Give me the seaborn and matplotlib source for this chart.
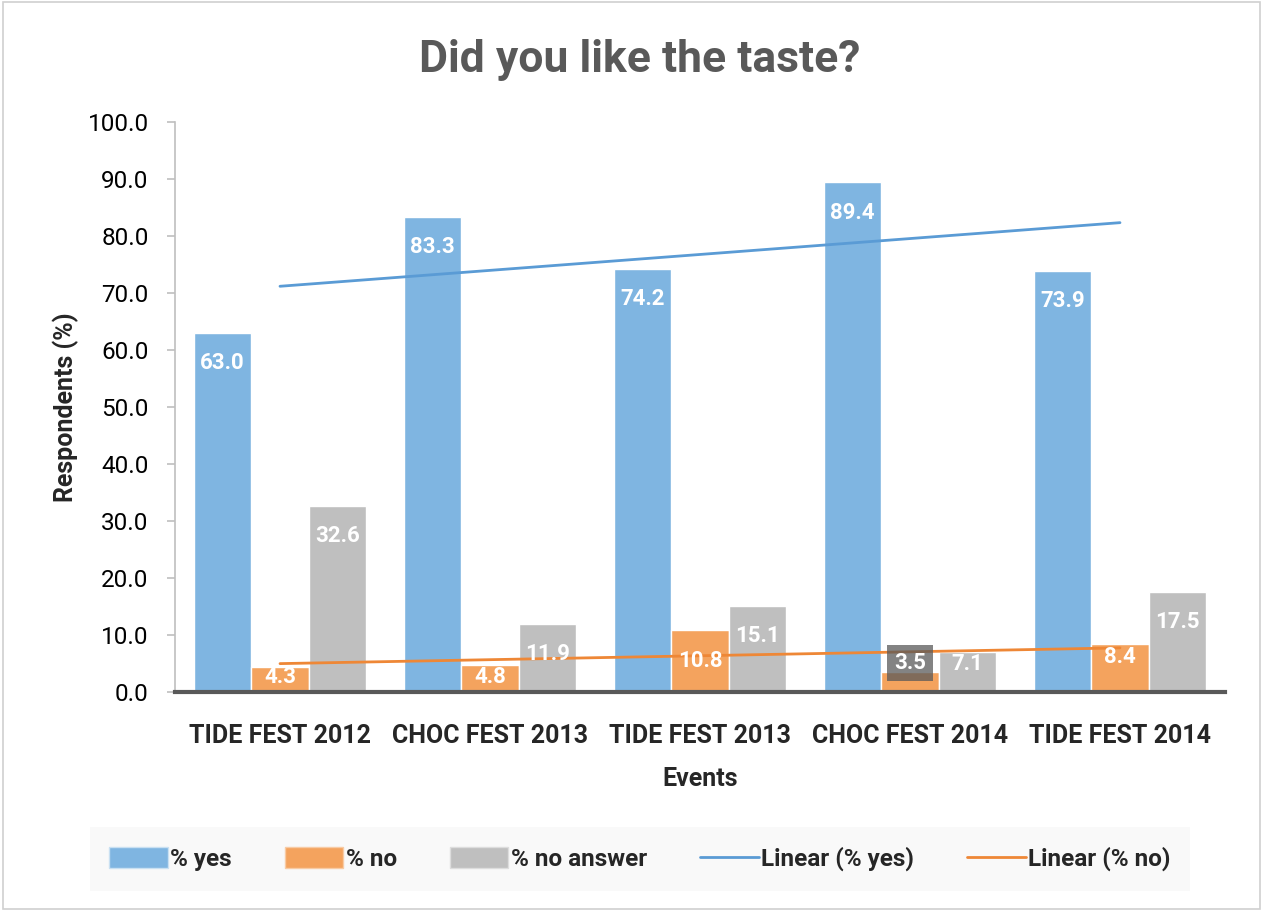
import numpy as np
import pandas as pd
import matplotlib
matplotlib.use("Agg")
import matplotlib.pyplot as plt
from matplotlib.patches import Patch, Rectangle
from matplotlib.lines import Line2D
import seaborn as sns

# data
events = ["TIDE FEST 2012", "CHOC FEST 2013", "TIDE FEST 2013", "CHOC FEST 2014", "TIDE FEST 2014"]
pct_yes = [63.0, 83.3, 74.2, 89.4, 73.9]
pct_no = [4.3, 4.8, 10.8, 3.5, 8.4]
pct_no_answer = [32.6, 11.9, 15.1, 7.1, 17.5]
series_names = ["% yes", "% no", "% no answer"]

colors = ["#7FB5E1", "#F4A35E", "#BFBFBF"]
trend_colors = ["#5A9BD5", "#EE8736"]

sns.set_theme(style="white")
plt.rcParams["font.family"] = ["Roboto", "DejaVu Sans"]

df = pd.DataFrame({
    "event": events * 3,
    "series": [s for s in series_names for _ in events],
    "value": pct_yes + pct_no + pct_no_answer,
})

fig = plt.figure(figsize=(12.63, 9.11), dpi=100)
ax = fig.add_axes([175 / 1263, 1 - 692 / 911, 1050 / 1263, 570 / 911])

sns.barplot(data=df, x="event", y="value", hue="series", palette=colors, saturation=1,
            width=0.82, edgecolor="white", linewidth=1, ax=ax, legend=False)

# bar value labels
for cont in ax.containers:
    for bar in cont:
        v = bar.get_height()
        xc = bar.get_x() + bar.get_width() / 2
        if v > 10:
            yl = v - 5.3
        else:
            yl = max(v - 2.2, 2.6)
        kw = {}
        if abs(v - 3.5) < 1e-6:
            yl = 5.1
            kw["bbox"] = dict(boxstyle="square,pad=0.3", facecolor="#595959",
                              edgecolor="none", alpha=0.75)
        ax.text(xc, yl, f"{v:.1f}", ha="center", va="center", color="white",
                fontsize=16, fontweight="bold", **kw)

# linear trend lines
xs = np.arange(len(events))
for vals, c in zip([pct_yes, pct_no], trend_colors):
    k, b = np.polyfit(xs, vals, 1)
    ax.plot(xs, k * xs + b, color=c, linewidth=2)

ax.set_xlim(-0.5, len(events) - 0.5)
ax.set_ylim(0, 100)
ax.set_yticks(np.arange(0, 101, 10))
ax.set_yticklabels([f"{t:.1f}" for t in np.arange(0, 101, 10)], fontsize=17.5, color="#000000")
ax.tick_params(axis="y", which="both", left=True, length=6, width=1.2, color="#BFBFBF", pad=13)
ax.tick_params(axis="x", length=0, pad=23)
for lab in ax.get_xticklabels():
    lab.set_fontweight("bold")
    lab.set_fontsize(18)

ax.set_xlabel("Events", fontsize=18, fontweight="bold", labelpad=14)
ax.set_ylabel("Respondents (%)", fontsize=18, fontweight="bold", labelpad=6)

for side in ["top", "right"]:
    ax.spines[side].set_visible(False)
ax.spines["left"].set_color("#BFBFBF")
ax.spines["left"].set_linewidth(1.2)
ax.spines["bottom"].set_color("#595959")
ax.spines["bottom"].set_linewidth(3)

fig.text(0.5065, 1 - 60 / 911, "Did you like the taste?", ha="center", va="center",
         fontsize=32, fontweight="bold", color="#595959")

handles = [Patch(facecolor=colors[0], edgecolor="#C9E0F2"),
           Patch(facecolor=colors[1], edgecolor="#F8CBA4"),
           Patch(facecolor=colors[2], edgecolor="#DDDDDD"),
           Line2D([0], [0], color=trend_colors[0], linewidth=2),
           Line2D([0], [0], color=trend_colors[1], linewidth=2)]
labels = series_names + ["Linear (% yes)", "Linear (% no)"]
leg = fig.legend(handles, labels, loc="center", ncol=5, mode="expand",
                 bbox_to_anchor=(90 / 1263, 1 - 888 / 911, 1100 / 1263, 58 / 911),
                 frameon=True, facecolor="#F9F9F9", edgecolor="none", fancybox=False,
                 prop={"weight": "bold", "size": 17.5}, handlelength=2.4, handleheight=0.9,
                 handletextpad=0.1, borderaxespad=0, framealpha=1, borderpad=0.8)

fig.patches.append(Rectangle((0.002, 0.002), 0.996, 0.996, transform=fig.transFigure,
                             fill=False, edgecolor="#D0D0D0", linewidth=1.2))

fig.savefig("out.png", dpi=100)
